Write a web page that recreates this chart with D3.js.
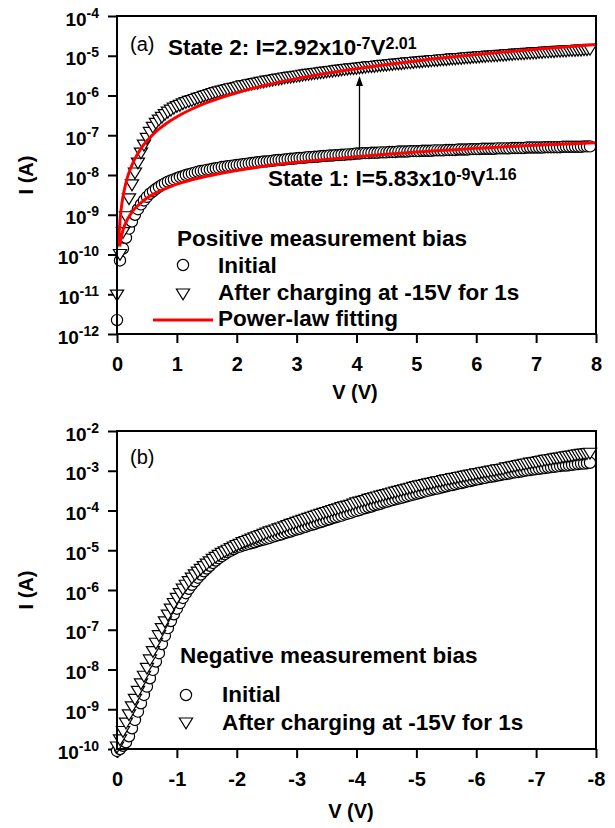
<!DOCTYPE html>
<html>
<head>
<meta charset="utf-8">
<script src="https://cdn.jsdelivr.net/npm/d3@7"></script>
<style>
  html, body { margin: 0; background: #fff; }
  svg { display: block; font-family: "Liberation Sans", Arial, Helvetica, sans-serif; }
</style>
</head>
<body>
<svg id="chart" width="615" height="828"></svg>
<script>
// ---- data (log10 of current in A, sweep 0 .. 7.9 V in 0.05 V steps) ----
const sweepSteps = 159;
const sweepStep = 0.05;

// (a) positive bias, initial (circles)
const posInitial = [
  -11.65,-10.15,-9.85,-9.58,-9.35,-9.17,-9.00,-8.86,-8.74,-8.64,
  -8.55,-8.47,-8.41,-8.35,-8.30,-8.25,-8.21,-8.17,-8.14,-8.11,
  -8.08,-8.05,-8.03,-8.00,-7.98,-7.96,-7.94,-7.92,-7.90,-7.89,
  -7.87,-7.86,-7.84,-7.83,-7.82,-7.80,-7.79,-7.78,-7.77,-7.76,
  -7.75,-7.74,-7.73,-7.72,-7.71,-7.70,-7.69,-7.68,-7.67,-7.66,
  -7.66,-7.65,-7.64,-7.63,-7.62,-7.62,-7.61,-7.60,-7.59,-7.59,
  -7.58,-7.57,-7.57,-7.56,-7.55,-7.55,-7.54,-7.54,-7.53,-7.52,
  -7.52,-7.51,-7.51,-7.50,-7.50,-7.49,-7.49,-7.48,-7.48,-7.47,
  -7.46,-7.46,-7.45,-7.45,-7.45,-7.44,-7.44,-7.44,-7.43,-7.43,
  -7.43,-7.42,-7.42,-7.42,-7.41,-7.41,-7.41,-7.41,-7.40,-7.40,
  -7.40,-7.40,-7.39,-7.39,-7.39,-7.39,-7.38,-7.38,-7.38,-7.38,
  -7.37,-7.37,-7.37,-7.37,-7.36,-7.36,-7.36,-7.36,-7.35,-7.35,
  -7.35,-7.35,-7.34,-7.34,-7.34,-7.34,-7.34,-7.33,-7.33,-7.33,
  -7.33,-7.33,-7.32,-7.32,-7.32,-7.32,-7.32,-7.31,-7.31,-7.31,
  -7.31,-7.31,-7.31,-7.30,-7.30,-7.30,-7.30,-7.30,-7.30,-7.29,
  -7.29,-7.29,-7.29,-7.29,-7.29,-7.29,-7.28,-7.28,-7.28
];
// (a) positive bias, after charging (triangles)
const posCharged = [
  -11.02,-10.00,-9.45,-9.05,-8.60,-8.25,-7.95,-7.70,-7.45,-7.25,
  -7.08,-6.93,-6.80,-6.70,-6.62,-6.55,-6.48,-6.42,-6.37,-6.32,
  -6.28,-6.25,-6.21,-6.18,-6.15,-6.13,-6.10,-6.07,-6.05,-6.02,
  -6.00,-5.98,-5.95,-5.93,-5.91,-5.89,-5.87,-5.85,-5.83,-5.82,
  -5.80,-5.78,-5.76,-5.75,-5.73,-5.72,-5.70,-5.69,-5.67,-5.66,
  -5.64,-5.63,-5.62,-5.60,-5.59,-5.58,-5.56,-5.55,-5.54,-5.53,
  -5.52,-5.51,-5.49,-5.48,-5.47,-5.46,-5.45,-5.44,-5.43,-5.42,
  -5.41,-5.40,-5.39,-5.38,-5.37,-5.36,-5.35,-5.34,-5.33,-5.33,
  -5.32,-5.31,-5.30,-5.29,-5.28,-5.28,-5.27,-5.26,-5.25,-5.24,
  -5.24,-5.23,-5.22,-5.21,-5.21,-5.20,-5.19,-5.18,-5.18,-5.17,
  -5.16,-5.16,-5.15,-5.14,-5.14,-5.13,-5.12,-5.12,-5.11,-5.10,
  -5.10,-5.09,-5.08,-5.08,-5.07,-5.07,-5.06,-5.05,-5.05,-5.04,
  -5.04,-5.03,-5.02,-5.02,-5.01,-5.01,-5.00,-5.00,-4.99,-4.99,
  -4.98,-4.97,-4.97,-4.96,-4.96,-4.95,-4.95,-4.94,-4.94,-4.93,
  -4.93,-4.92,-4.92,-4.91,-4.91,-4.90,-4.90,-4.89,-4.89,-4.88,
  -4.88,-4.87,-4.87,-4.87,-4.86,-4.86,-4.85,-4.85,-4.84
];
// (a) power-law fitting curves, read as [V, log10 I]
const fitState1 = [
  [0.045,-9.80],[0.06,-9.65],[0.08,-9.51],[0.1,-9.39],[0.13,-9.26],[0.17,-9.13],
  [0.22,-9.00],[0.3,-8.84],[0.4,-8.70],[0.5,-8.58],[0.65,-8.45],[0.8,-8.35],
  [1,-8.23],[1.25,-8.12],[1.5,-8.03],[2,-7.885],[2.5,-7.77],[3,-7.68],
  [4,-7.54],[5,-7.42],[6,-7.33],[7,-7.25],[8,-7.19]
];
const fitState2 = [
  [0.025,-9.75],[0.03,-9.60],[0.04,-9.35],[0.05,-9.15],[0.06,-8.99],[0.08,-8.74],
  [0.1,-8.545],[0.13,-8.32],[0.17,-8.08],[0.22,-7.86],[0.3,-7.59],[0.4,-7.335],
  [0.5,-7.14],[0.65,-6.91],[0.8,-6.73],[1,-6.535],[1.25,-6.34],[1.5,-6.18],
  [2,-5.93],[2.5,-5.735],[3,-5.575],[4,-5.325],[5,-5.13],[6,-4.97],[7,-4.835],[8,-4.72]
];
const arrowA = { v: 4.05, from: 4.3e-8, to: 3.1e-6 };

// (b) negative bias, |V| 0 .. 7.9 V
const negInitial = [
  -10.05,-10.00,-9.92,-9.83,-9.68,-9.48,-9.27,-9.06,-8.85,-8.64,
  -8.43,-8.22,-8.01,-7.80,-7.59,-7.36,-7.15,-6.96,-6.78,-6.61,
  -6.47,-6.33,-6.20,-6.08,-5.97,-5.87,-5.78,-5.69,-5.61,-5.53,
  -5.46,-5.39,-5.32,-5.26,-5.20,-5.15,-5.10,-5.05,-5.01,-4.97,
  -4.93,-4.91,-4.88,-4.86,-4.84,-4.82,-4.80,-4.77,-4.75,-4.73,
  -4.71,-4.69,-4.66,-4.64,-4.62,-4.60,-4.57,-4.55,-4.53,-4.50,
  -4.48,-4.46,-4.43,-4.41,-4.38,-4.36,-4.34,-4.31,-4.29,-4.27,
  -4.24,-4.22,-4.19,-4.17,-4.15,-4.13,-4.10,-4.08,-4.06,-4.03,
  -4.01,-3.99,-3.96,-3.94,-3.92,-3.90,-3.87,-3.85,-3.83,-3.80,
  -3.78,-3.76,-3.74,-3.72,-3.70,-3.68,-3.66,-3.64,-3.62,-3.60,
  -3.58,-3.56,-3.54,-3.52,-3.50,-3.48,-3.46,-3.45,-3.43,-3.41,
  -3.39,-3.37,-3.36,-3.34,-3.32,-3.31,-3.29,-3.27,-3.26,-3.24,
  -3.22,-3.21,-3.19,-3.18,-3.16,-3.15,-3.14,-3.12,-3.11,-3.09,
  -3.08,-3.07,-3.05,-3.04,-3.03,-3.02,-3.00,-2.99,-2.98,-2.97,
  -2.96,-2.95,-2.94,-2.93,-2.92,-2.91,-2.90,-2.89,-2.88,-2.87,
  -2.87,-2.86,-2.85,-2.84,-2.83,-2.82,-2.82,-2.81,-2.80
];
const negCharged = [
  -9.95,-9.77,-9.56,-9.35,-9.14,-8.94,-8.75,-8.55,-8.36,-8.17,
  -7.97,-7.76,-7.55,-7.34,-7.15,-6.97,-6.80,-6.63,-6.48,-6.34,
  -6.21,-6.09,-5.98,-5.88,-5.79,-5.70,-5.62,-5.55,-5.48,-5.41,
  -5.35,-5.29,-5.23,-5.18,-5.13,-5.08,-5.04,-5.00,-4.96,-4.92,
  -4.88,-4.85,-4.81,-4.78,-4.75,-4.72,-4.69,-4.66,-4.63,-4.60,
  -4.57,-4.54,-4.52,-4.49,-4.46,-4.44,-4.41,-4.38,-4.35,-4.33,
  -4.30,-4.27,-4.25,-4.22,-4.20,-4.17,-4.15,-4.12,-4.10,-4.07,
  -4.05,-4.03,-4.00,-3.98,-3.96,-3.93,-3.91,-3.89,-3.87,-3.84,
  -3.81,-3.79,-3.77,-3.75,-3.72,-3.70,-3.68,-3.66,-3.64,-3.62,
  -3.60,-3.58,-3.56,-3.54,-3.52,-3.50,-3.48,-3.46,-3.44,-3.42,
  -3.40,-3.38,-3.37,-3.35,-3.33,-3.32,-3.30,-3.28,-3.27,-3.25,
  -3.23,-3.22,-3.20,-3.19,-3.17,-3.16,-3.14,-3.13,-3.11,-3.10,
  -3.08,-3.07,-3.05,-3.04,-3.03,-3.01,-3.00,-2.98,-2.97,-2.96,
  -2.93,-2.92,-2.90,-2.89,-2.87,-2.86,-2.84,-2.83,-2.81,-2.80,
  -2.79,-2.77,-2.76,-2.74,-2.73,-2.72,-2.70,-2.69,-2.68,-2.66,
  -2.65,-2.64,-2.63,-2.61,-2.60,-2.59,-2.58,-2.57,-2.56
];

const xTicksPos = [0, 1, 2, 3, 4, 5, 6, 7, 8];
const xTicksNeg = [0, -1, -2, -3, -4, -5, -6, -7, -8];
const yExpsTop = [-12, -11, -10, -9, -8, -7, -6, -5, -4];
const yExpsBottom = [-10, -9, -8, -7, -6, -5, -4, -3, -2];

// ---- drawing ----
const svg = d3.select('#chart');
const RED = '#ff0000';
const sweep = d3.range(sweepSteps).map(i => +(i * sweepStep).toFixed(2));

// downward triangle as a d3 symbol type
const triDown = {
  draw(ctx, size) {
    const w = 6.6, h = 5.4;
    ctx.moveTo(-w, -h + 0.4);
    ctx.lineTo(w, -h + 0.4);
    ctx.lineTo(0, h + 0.4);
    ctx.closePath();
  }
};

// text with superscript parts: [{t:'..'}, {t:'..', sup:true}]
function rich(g, x, y, parts, o) {
  const t = g.append('text')
    .attr('x', x).attr('y', y)
    .attr('font-size', o.size)
    .attr('font-weight', o.weight || 'bold')
    .attr('text-anchor', o.anchor || 'start')
    .attr('fill', '#000');
  let up = false;
  parts.forEach(p => {
    const s = t.append('tspan').text(p.t);
    if (p.sup && !up) { s.attr('dy', -o.shift).attr('font-size', o.supSize); up = true; }
    else if (p.sup) { s.attr('font-size', o.supSize); }
    else if (up) { s.attr('dy', o.shift); up = false; }
  });
  return t;
}

function panel(p) {
  const x = d3.scaleLinear().domain(p.xDomain).range([117, 596]);
  const y = d3.scaleLog()
    .domain([Math.pow(10, p.yExps[0]), Math.pow(10, p.yExps[p.yExps.length - 1])])
    .range([p.bottom, p.top]);
  const g = svg.append('g');

  // x axis
  const gx = g.append('g').attr('transform', `translate(0,${p.bottom})`)
    .call(d3.axisBottom(x).tickValues(p.xTicks).tickSize(9).tickSizeOuter(0)
      .tickPadding(14).tickFormat(d => String(d)));
  // y axis
  const gy = g.append('g').attr('transform', 'translate(117,0)')
    .call(d3.axisLeft(y).tickValues(p.yExps.map(e => Math.pow(10, e)))
      .tickSize(9).tickSizeOuter(0).tickPadding(9).tickFormat(() => ''));
  [gx, gy].forEach(a => {
    a.select('.domain').remove();
    a.selectAll('.tick line').attr('stroke', '#000').attr('stroke-width', 2);
    a.selectAll('.tick text').attr('fill', '#000').attr('font-size', 20)
      .attr('font-weight', 'bold').attr('font-family', null);
  });
  gy.selectAll('.tick text').each(function (d) {
    const e = Math.round(Math.log10(d));
    const t = d3.select(this).attr('dy', null).attr('y', 9).attr('font-size', 19);
    t.append('tspan').text('10');
    t.append('tspan').attr('dy', -8).attr('font-size', 14).text(String(e));
  });

  // axis titles
  g.append('text').attr('x', p.titleX).attr('y', p.bottom + p.titleDy)
    .attr('text-anchor', 'middle').attr('font-size', 20).attr('font-weight', 'bold')
    .text('V (V)');
  g.append('text')
    .attr('transform', `translate(33,${(p.top + p.bottom) / 2}) rotate(-90)`)
    .attr('text-anchor', 'middle').attr('font-size', 20).attr('font-weight', 'bold')
    .text('I (A)');

  // markers
  const pts = arr => sweep.slice(0, arr.length).map((v, i) => [v * p.sign, Math.pow(10, arr[i])]);
  const marks = g.append('g').attr('stroke', '#000').attr('stroke-width', 1.2).attr('fill', '#fff');
  marks.append('g').selectAll('circle').data(pts(p.circles)).join('circle')
    .attr('cx', d => x(d[0])).attr('cy', d => y(d[1])).attr('r', 5.6);
  const sym = d3.symbol().type(triDown);
  marks.append('g').selectAll('path').data(pts(p.triangles)).join('path')
    .attr('transform', d => `translate(${x(d[0])},${y(d[1])})`).attr('d', sym);

  // fitting curves
  const line = d3.line().x(d => x(d[0])).y(d => y(Math.pow(10, d[1]))).curve(d3.curveMonotoneX);
  (p.fits || []).forEach(f => {
    g.append('path').attr('d', line(f)).attr('fill', 'none')
      .attr('stroke', RED).attr('stroke-width', 3);
  });

  // frame
  g.append('rect').attr('x', 117).attr('y', p.top).attr('width', 596 - 117)
    .attr('height', p.bottom - p.top).attr('fill', 'none')
    .attr('stroke', '#000').attr('stroke-width', 2);

  // panel label
  g.append('text').attr('x', 130).attr('y', p.labelY).attr('font-size', 20)
    .attr('font-weight', 'normal').text(p.label);

  return { g, x, y };
}

const big = { size: 22.5, supSize: 16, shift: 6 };

// ---- panel (a) ----
const A = panel({
  top: 16, bottom: 334, xDomain: [0, 8], xTicks: xTicksPos, yExps: yExpsTop, sign: 1,
  circles: posInitial, triangles: posCharged, fits: [fitState1, fitState2],
  titleX: 355, titleDy: 65, label: '(a)', labelY: 51
});

// arrow from state 1 to state 2
{
  const ax = A.x(arrowA.v), y0 = A.y(arrowA.from), y1 = A.y(arrowA.to);
  A.g.append('line').attr('x1', ax).attr('x2', ax).attr('y1', y0).attr('y2', y1 + 8)
    .attr('stroke', '#000').attr('stroke-width', 1.3);
  A.g.append('path').attr('d', `M${ax},${y1}L${ax - 3.5},${y1 + 10}L${ax + 3.5},${y1 + 10}Z`)
    .attr('fill', '#000');
}

rich(A.g, 168, 55, [{ t: 'State 2: I=2.92x10' }, { t: '-7', sup: true }, { t: 'V' }, { t: '2.01', sup: true }], big);
rich(A.g, 268, 186, [{ t: 'State 1: I=5.83x10' }, { t: '-9', sup: true }, { t: 'V' }, { t: '1.16', sup: true }], big);

// legend (a)
rich(A.g, 177, 246, [{ t: 'Positive measurement bias' }], big);
A.g.append('circle').attr('cx', 183).attr('cy', 265).attr('r', 5.6)
  .attr('fill', '#fff').attr('stroke', '#000').attr('stroke-width', 1.2);
rich(A.g, 218, 273, [{ t: 'Initial' }], big);
A.g.append('path').attr('transform', 'translate(183,294)').attr('d', d3.symbol().type(triDown)())
  .attr('fill', '#fff').attr('stroke', '#000').attr('stroke-width', 1.2);
rich(A.g, 218, 300, [{ t: 'After charging at -15V for 1s' }], big);
A.g.append('line').attr('x1', 153).attr('x2', 213).attr('y1', 320).attr('y2', 320)
  .attr('stroke', RED).attr('stroke-width', 3);
rich(A.g, 218, 326, [{ t: 'Power-law fitting' }], big);

// ---- panel (b) ----
const B = panel({
  top: 431, bottom: 749, xDomain: [0, -8], xTicks: xTicksNeg, yExps: yExpsBottom, sign: -1,
  circles: negInitial, triangles: negCharged,
  titleX: 351, titleDy: 69, label: '(b)', labelY: 464
});

rich(B.g, 180, 663, [{ t: 'Negative measurement bias' }], big);
B.g.append('circle').attr('cx', 186).attr('cy', 695).attr('r', 5.6)
  .attr('fill', '#fff').attr('stroke', '#000').attr('stroke-width', 1.2);
rich(B.g, 222, 702, [{ t: 'Initial' }], big);
B.g.append('path').attr('transform', 'translate(186,723)').attr('d', d3.symbol().type(triDown)())
  .attr('fill', '#fff').attr('stroke', '#000').attr('stroke-width', 1.2);
rich(B.g, 222, 730, [{ t: 'After charging at -15V for 1s' }], big);
</script>
</body>
</html>
